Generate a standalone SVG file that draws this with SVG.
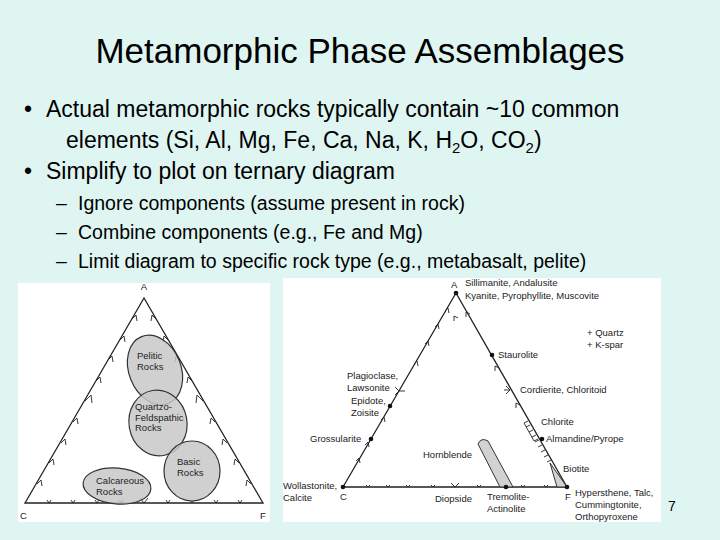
<svg xmlns="http://www.w3.org/2000/svg" width="720" height="540" viewBox="0 0 720 540">
<defs>
<style>
.t{font-family:"Liberation Sans",Arial,sans-serif;fill:#000}
.s{font-family:"Liberation Sans",Arial,sans-serif;font-size:9.5px;fill:#222}
.e{fill:#c8c8c8;stroke:#333;stroke-width:1.2;fill-opacity:0.85}
.l{stroke:#222;stroke-width:1.3;fill:none}
.k{stroke:#222;stroke-width:0.9;fill:none}
</style>
</defs>
<rect width="720" height="540" fill="#dff5f2"/>
<text class="t" x="360" y="63" font-size="35" text-anchor="middle">Metamorphic Phase Assemblages</text>
<g class="t" font-size="23">
<text x="24" y="117">•</text><text x="46" y="117">Actual metamorphic rocks typically contain ~10 common</text>
<text x="66" y="148">elements (Si, Al, Mg, Fe, Ca, Na, K, H<tspan font-size="15" dy="5">2</tspan><tspan dy="-5">O, CO</tspan><tspan font-size="15" dy="5">2</tspan><tspan dy="-5">)</tspan></text>
<text x="24" y="179">•</text><text x="46" y="179">Simplify to plot on ternary diagram</text>
</g>
<g class="t" font-size="19.5">
<text x="56" y="210">–</text><text x="78" y="210">Ignore components (assume present in rock)</text>
<text x="56" y="239">–</text><text x="78" y="239">Combine components (e.g., Fe and Mg)</text>
<text x="56" y="268">–</text><text x="78" y="268">Limit diagram to specific rock type (e.g., metabasalt, pelite)</text>
</g>
<text class="t" x="668" y="511" font-size="14">7</text>

<g id="left-diagram">
<rect x="18" y="283" width="252" height="239" fill="#fff"/>
<path class="l" d="M144,298 L25,503 L263,503 Z"/>
<g class="k">
<path d="M132,319 l4,-4 l1,6 M120,340 l4,-4 l1,6 M108,360 l4,-4 l1,6 M96,381 l4,-4 l1,6 M85,401 l6,-6 l1,8 M73,422 l4,-4 l1,6 M61,443 l4,-4 l1,6 M49,463 l4,-4 l1,6 M37,484 l4,-4 l1,6"/>
<path d="M156,319 l-4,-4 l-1,6 M168,340 l-4,-4 l-1,6 M180,360 l-4,-4 l-1,6 M192,381 l-4,-4 l-1,6 M203,401 l-6,-6 l-1,8 M215,422 l-4,-4 l-1,6 M227,443 l-4,-4 l-1,6 M239,463 l-4,-4 l-1,6 M251,484 l-4,-4 l-1,6"/>
<path d="M47,500 l2,3 l2,-3 M71,500 l2,3 l2,-3 M95,500 l2,3 l2,-3 M119,500 l2,3 l2,-3 M140,498 l4,5 l4,-5 M166,500 l2,3 l2,-3 M190,500 l2,3 l2,-3 M214,500 l2,3 l2,-3 M238,500 l2,3 l2,-3"/>
</g>
<ellipse class="e" cx="155" cy="370" rx="26" ry="36" transform="rotate(-22 155 370)"/>
<ellipse class="e" cx="158" cy="423" rx="29" ry="33" transform="rotate(-10 158 423)"/>
<ellipse class="e" cx="192" cy="471" rx="28" ry="30"/>
<ellipse class="e" cx="117" cy="486" rx="34" ry="18" transform="rotate(5 117 486)"/>
<text class="s" x="144" y="290" text-anchor="middle" font-size="8">A</text>
<text class="s" x="20" y="519" font-size="8">C</text>
<text class="s" x="260" y="519" font-size="8">F</text>
<text class="s" x="137" y="359">Pelitic</text><text class="s" x="137" y="370">Rocks</text>
<text class="s" x="135" y="410">Quartzo-</text><text class="s" x="135" y="421">Feldspathic</text><text class="s" x="135" y="431">Rocks</text>
<text class="s" x="177" y="465">Basic</text><text class="s" x="177" y="476">Rocks</text>
<text class="s" x="96" y="484">Calcareous</text><text class="s" x="96" y="495">Rocks</text>
</g>

<g id="right-diagram">
<rect x="283" y="278" width="378" height="244" fill="#fff"/>
<path class="l" d="M456,293 L343,487 L567,487 Z"/>
<path d="M478,444 Q481,437 488,441 L513,487 L500,487 Z" fill="#d2d2d2" stroke="#333"/>
<path d="M550,463 L567,487 L557,487 Z" fill="#d2d2d2" stroke="#333"/>
<g class="k">
<path d="M470,314 l-4,-2 l0,5 M499,368 l-4,-2 l0,5 M520,405 l-4,-2 l0,5 M435,327 l3,-3 l1,5 M425,344 l3,-3 l1,5 M381,420 l3,-3 l1,5 M365,445 l3,-3 l1,5 M356,461 l3,-3 l1,5"/>
<path d="M458,318 l-4,-2 l0,5 M445,311 l3,-3 l1,5 M414,364 l3,-3 l1,5 M399,391 l6,0 M395,387 l4,4 l-4,4 M510,390 l-6,0 M506,386 l4,4 l-4,4"/>
<path d="M366,485 l2,2 l2,-2 M386,485 l2,2 l2,-2 M406,485 l2,2 l2,-2 M431,485 l2,2 l2,-2 M451,483 l4,4 l4,-4 M477,485 l2,2 l2,-2 M521,485 l2,2 l2,-2 M544,485 l2,2 l2,-2"/>
<path d="M530,425 l-4,2 M533,430 l-4,2 M536,435 l-4,2 M539,440 l-4,2 M542,445 l-4,2 M545,450 l-4,2 M548,455 l-4,2 M551,460 l-4,2 M528,421 l-4,2 l10,18 l4,-2"/>
</g>
<g fill="#111">
<circle cx="456" cy="293" r="2.3"/><circle cx="492" cy="355" r="2.3"/><circle cx="542" cy="439" r="2.3"/>
<circle cx="390" cy="406" r="2.3"/><circle cx="371" cy="439" r="2.3"/><circle cx="343" cy="487" r="2.3"/>
<circle cx="506" cy="487" r="2.3"/><circle cx="567" cy="487" r="2.3"/>
</g>
<text class="s" x="451" y="288" font-size="8">A</text>
<text class="s" x="465" y="286">Sillimanite, Andalusite</text>
<text class="s" x="465" y="299">Kyanite, Pyrophyllite, Muscovite</text>
<text class="s" x="587" y="336">+ Quartz</text><text class="s" x="587" y="348">+ K-spar</text>
<text class="s" x="498" y="358">Staurolite</text>
<text class="s" x="520" y="393">Cordierite, Chloritoid</text>
<text class="s" x="541" y="425">Chlorite</text>
<text class="s" x="546" y="442">Almandine/Pyrope</text>
<text class="s" x="563" y="472">Biotite</text>
<text class="s" x="347" y="379">Plagioclase,</text><text class="s" x="347" y="391">Lawsonite</text>
<text class="s" x="351" y="404">Epidote,</text><text class="s" x="351" y="416">Zoisite</text>
<text class="s" x="310" y="442">Grossularite</text>
<text class="s" x="423" y="458">Hornblende</text>
<text class="s" x="283" y="489">Wollastonite,</text><text class="s" x="283" y="501">Calcite</text>
<text class="s" x="340" y="500" font-size="8">C</text>
<text class="s" x="435" y="502">Diopside</text>
<text class="s" x="487" y="500">Tremolite-</text><text class="s" x="487" y="512">Actinolite</text>
<text class="s" x="565" y="500" font-size="8">F</text>
<text class="s" x="575" y="496">Hypersthene, Talc,</text>
<text class="s" x="575" y="508">Cummingtonite,</text>
<text class="s" x="575" y="520">Orthopyroxene</text>
</g>
</svg>
